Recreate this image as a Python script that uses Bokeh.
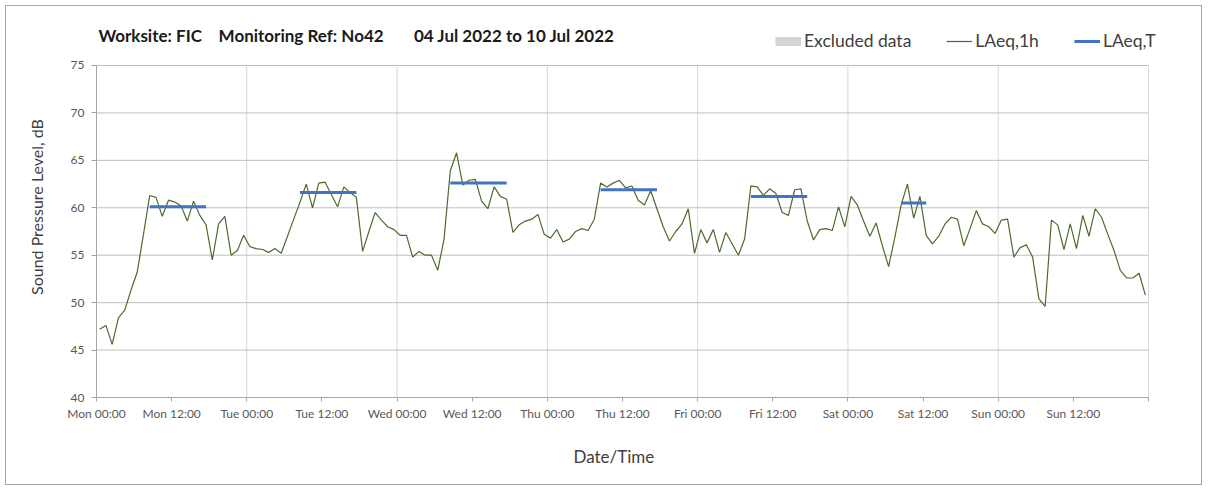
from bokeh.plotting import figure
from bokeh.models import Range1d, FixedTicker, Label, Legend, LegendItem, Title
from bokeh.embed import file_html
from bokeh.resources import INLINE
import numpy as np

# ---- data -------------------------------------------------------------
day_labels = ["Mon", "Tue", "Wed", "Thu", "Fri", "Sat", "Sun"]

laeq_1h_mon = [47.2, 47.6, 45.6, 48.4, 49.2, 51.3, 53.2, 57.2, 61.3, 61.1, 59.1, 60.8,
               60.6, 60.2, 58.6, 60.7, 59.2, 58.2, 54.5, 58.3, 59.1, 55.0, 55.5, 57.1]
laeq_1h_tue = [55.9, 55.7, 55.6, 55.3, 55.7, 55.2, 57.0, 58.8, 60.6, 62.5, 60.0, 62.6,
               62.7, 61.4, 60.1, 62.2, 61.6, 61.1, 55.4, 57.5, 59.5, 58.7, 58.0, 57.7]
laeq_1h_wed = [57.1, 57.1, 54.8, 55.4, 55.0, 55.0, 53.4, 56.7, 63.9, 65.8, 62.4, 62.9,
               63.0, 60.7, 59.9, 62.2, 61.2, 60.9, 57.4, 58.2, 58.6, 58.8, 59.3, 57.2]
laeq_1h_thu = [56.8, 57.7, 56.4, 56.7, 57.5, 57.8, 57.6, 58.8, 62.6, 62.2, 62.6, 62.9,
               62.1, 62.3, 60.8, 60.3, 61.8, 59.9, 58.0, 56.5, 57.5, 58.3, 59.9, 55.2]
laeq_1h_fri = [57.7, 56.3, 57.7, 55.3, 57.4, 56.2, 55.0, 56.7, 62.3, 62.2, 61.3, 62.0,
               61.5, 59.5, 59.2, 61.9, 62.0, 58.6, 56.6, 57.7, 57.8, 57.6, 60.1, 58.0]
laeq_1h_sat = [61.2, 60.3, 58.6, 57.0, 58.4, 56.0, 53.8, 56.9, 60.3, 62.5, 58.9, 61.2,
               57.1, 56.2, 57.0, 58.3, 59.0, 58.8, 56.0, 57.8, 59.7, 58.3, 58.0, 57.3]
laeq_1h_sun = [58.7, 58.8, 54.8, 55.8, 56.1, 54.8, 50.4, 49.6, 58.7, 58.2, 55.6, 58.3,
               55.7, 59.2, 57.0, 59.9, 59.0, 57.2, 55.5, 53.4, 52.6, 52.6, 53.1, 50.8]

# LAeq,T daytime periods: start hour, end hour (hours from Mon 00:00), level
laeq_t_start = [8, 32, 56, 80, 104, 128]
laeq_t_end = [18, 42, 66, 90, 114, 133]
laeq_t = [60.1, 61.6, 62.6, 61.9, 61.2, 60.5]

# no hours were excluded in this week
excluded_x = [np.nan]
excluded_y = [np.nan]

y_ticks = [40, 45, 50, 55, 60, 65, 70, 75]
x_ticks = list(range(0, 169, 12))
day_grid = list(range(24, 169, 24))

title_parts = ["Worksite: FIC", "Monitoring Ref: No42", "04 Jul 2022 to 10 Jul 2022"]

laeq_1h = (laeq_1h_mon + laeq_1h_tue + laeq_1h_wed + laeq_1h_thu +
           laeq_1h_fri + laeq_1h_sat + laeq_1h_sun)
hours = np.arange(len(laeq_1h)) + 0.5  # hourly values plotted mid-hour

# ---- figure -----------------------------------------------------------
FONT = "Lato"
Y_TOP = 80.165   # headroom above 75 dB holds the title and legend
X_END = 171.513  # room right of the last day for the legend text
p = figure(width=1197, height=480, output_backend="svg", toolbar_location=None,
           x_range=Range1d(0, X_END), y_range=Range1d(40, Y_TOP),
           min_border_left=90, min_border_right=33, min_border_top=10,
           min_border_bottom=89,
           styles={"border": "1px solid #a6a6a6", "margin-left": "5px",
                   "margin-top": "5px"})
p.outline_line_color = None
p.background_fill_color = "white"
p.border_fill_color = "white"

# grids drawn only over the 40-75 dB / Mon-Sun area
p.xgrid.visible = False
p.ygrid.visible = False
p.segment(x0=day_grid, y0=[y_ticks[0]] * len(day_grid),
          x1=day_grid, y1=[y_ticks[-1]] * len(day_grid),
          line_color="#d9d9d9", line_width=1, level="underlay")
hg = y_ticks[1:]
p.segment(x0=[x_ticks[0]] * len(hg), y0=hg, x1=[x_ticks[-1]] * len(hg), y1=hg,
          line_color="#bfbfbf", line_width=1, level="underlay")

# x axis
overrides = {}
for t in x_ticks:
    overrides[t] = f"{day_labels[t // 24]} {t % 24:02d}:00" if t < 168 else ""
xa = p.xaxis[0]
xa.ticker = FixedTicker(ticks=x_ticks)
xa.bounds = (x_ticks[0], x_ticks[-1])
xa.major_label_overrides = overrides
xa.minor_tick_line_color = None
xa.major_tick_in = 0
xa.major_tick_out = 4
xa.axis_line_color = "#a6a6a6"
xa.major_tick_line_color = "#a6a6a6"
xa.major_label_text_font = FONT
xa.major_label_text_font_size = "12px"
xa.major_label_text_color = "#595959"
xa.major_label_standoff = 4

# x axis title, placed under the axis (left-aligned with an offset)
p.add_layout(Title(text="Date/Time", align="left", offset=477, standoff=40,
                   text_font=FONT, text_font_style="normal",
                   text_font_size="17px", text_color="#404040",
                   vertical_align="bottom"), "below")

ya = p.yaxis[0]
ya.ticker = FixedTicker(ticks=y_ticks)
ya.bounds = (y_ticks[0], y_ticks[-1])
ya.minor_tick_line_color = None
ya.major_tick_in = 0
ya.major_tick_out = 5
ya.axis_line_color = "#a6a6a6"
ya.major_tick_line_color = "#a6a6a6"
ya.major_label_text_font = FONT
ya.major_label_text_font_size = "12px"
ya.major_label_text_color = "#595959"
ya.major_label_standoff = 7
ya.axis_label = "Sound Pressure Level, dB"
ya.axis_label_text_font = FONT
ya.axis_label_text_font_style = "normal"
ya.axis_label_text_font_size = "16px"
ya.axis_label_text_color = "#404040"
ya.axis_label_standoff = 22

# ---- glyphs -----------------------------------------------------------
r_excl = p.line(x=excluded_x, y=excluded_y, line_color="#d4d4d4", line_width=9)
r_1h = p.line(hours, laeq_1h, line_color="#4e6b2e", line_width=1.2)
xs = [[s + 0.5, e - 0.5] for s, e in zip(laeq_t_start, laeq_t_end)]
ys = [[v, v] for v in laeq_t]
r_t = p.multi_line(xs, ys, line_color="#4472c4", line_width=3)

legend = Legend(items=[LegendItem(label="Excluded data", renderers=[r_excl]),
                       LegendItem(label="LAeq,1h", renderers=[r_1h]),
                       LegendItem(label="LAeq,T", renderers=[r_t])],
                orientation="horizontal", location=(679, 346),
                glyph_width=26, glyph_height=18, label_height=18,
                label_standoff=3, spacing=35, padding=0, margin=0,
                border_line_color=None, background_fill_alpha=0,
                label_text_font=FONT, label_text_font_size="17.5px",
                label_text_color="#404040")
p.add_layout(legend)

# title parts (positioned in the headroom above the 75 dB line)
title_x = [0.3, 19.5, 50.7]
for txt, tx in zip(title_parts, title_x):
    p.add_layout(Label(x=tx, y=78.16, text=txt, text_font=FONT,
                       text_font_size="17px", text_font_style="bold",
                       text_color="#1a1a1a", text_baseline="middle"))

open("out.html", "w").write(file_html(p, INLINE))
